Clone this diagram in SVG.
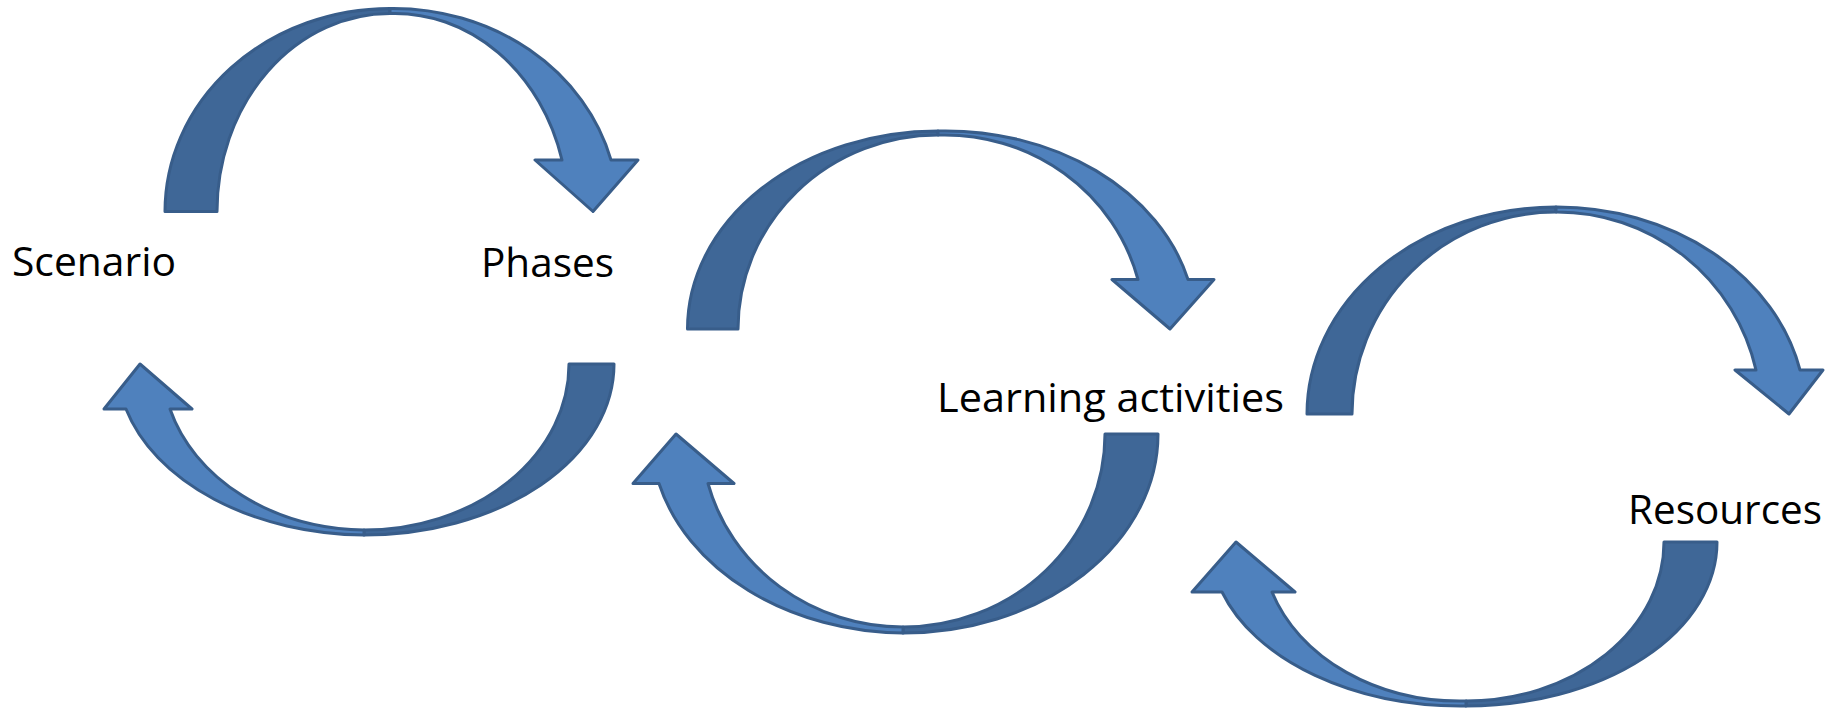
<svg xmlns="http://www.w3.org/2000/svg" width="1835" height="708" viewBox="0 0 1835 708">
  <style>
    .back { fill: #3F6797; stroke: #385D8A; stroke-width: 3; stroke-linejoin: round; }
    .front { fill: #4F81BD; stroke: #385D8A; stroke-width: 3; stroke-linejoin: round; }
    .label { font-family: "Open Sans", "Noto Sans", "Liberation Sans", sans-serif; font-size: 41px; fill: #000000; }
  </style>
  <rect x="0" y="0" width="1835" height="708" fill="#FFFFFF"/>
  <g id="connectors">
    <g id="arrow-scenario-phases">
      <path class="back" d="M165,211.5 A225,203 0 0 1 390,8.5 L390,13.5 A173,198 0 0 0 217,211.5 Z"/>
      <path class="front" d="M390,8.5 A225,203 0 0 1 611,160 L638,160 L593,211.5 L535,160 L562,160 A173,198 0 0 0 390,13.5 Z"/>
    </g>
    <g id="arrow-phases-scenario">
      <path class="back" d="M614,364 A250,171 0 0 1 364,535 L364,530 A205,166 0 0 0 569,364 Z"/>
      <path class="front" d="M364,535 A250,171 0 0 1 126,409 L104,409 L140,364 L192,409 L170,409 A205,166 0 0 0 364,530 Z"/>
    </g>
    <g id="arrow-phases-learning">
      <path class="back" d="M687.5,329 A250.5,198 0 0 1 938,131 L938,135 A200,194 0 0 0 738,329 Z"/>
      <path class="front" d="M938,131 A250.5,198 0 0 1 1188,279.5 L1214,279.5 L1170,329 L1112,279.5 L1138,279.5 A200,194 0 0 0 938,135 Z"/>
    </g>
    <g id="arrow-learning-phases">
      <path class="back" d="M1158,434 A255,199 0 0 1 903,633 L903,627 A202,193 0 0 0 1105,434 Z"/>
      <path class="front" d="M903,633 A255,199 0 0 1 659,483.5 L633,483.5 L676,434 L734,483.5 L708,483.5 A202,193 0 0 0 903,627 Z"/>
    </g>
    <g id="arrow-learning-resources">
      <path class="back" d="M1307,414 A249,207 0 0 1 1556,207 L1556,212 A204,202 0 0 0 1352,414 Z"/>
      <path class="front" d="M1556,207 A249,207 0 0 1 1800,370 L1823,370 L1789,414 L1735,370 L1756,370 A204,202 0 0 0 1556,212 Z"/>
    </g>
    <g id="arrow-resources-learning">
      <path class="back" d="M1717,542 A251,164 0 0 1 1466,706 L1466,701 A198,159 0 0 0 1664,542 Z"/>
      <path class="front" d="M1466,706 A251,164 0 0 1 1222,592 L1192,592 L1236,542 L1295,592 L1272,592 A198,159 0 0 0 1466,701 Z"/>
    </g>
  </g>
  <g id="node-scenario">
    <text class="label" x="12" y="276" textLength="164" lengthAdjust="spacingAndGlyphs">Scenario</text>
  </g>
  <g id="node-phases">
    <text class="label" x="481" y="277" textLength="133" lengthAdjust="spacingAndGlyphs">Phases</text>
  </g>
  <g id="node-learning-activities">
    <text class="label" x="937" y="412" textLength="347" lengthAdjust="spacingAndGlyphs">Learning activities</text>
  </g>
  <g id="node-resources">
    <text class="label" x="1628" y="524" textLength="194" lengthAdjust="spacingAndGlyphs">Resources</text>
  </g>
</svg>
